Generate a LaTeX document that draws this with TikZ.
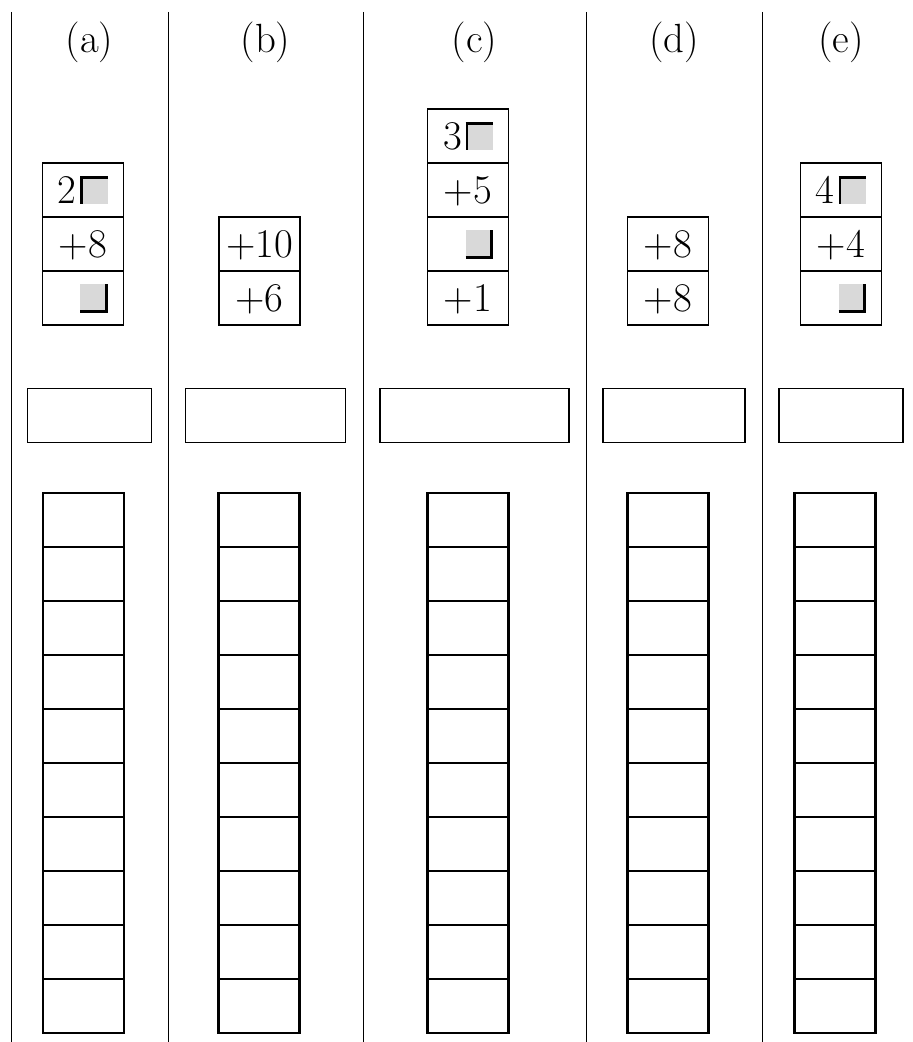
\documentclass[tikz,border=0pt]{standalone}
\usepackage{xcolor}
\usetikzlibrary{positioning}

\definecolor{gapgray}{gray}{0.85}
\newcommand{\bigfont}{\fontsize{21.5}{26}\selectfont}
\newlength{\gapw}\setlength{\gapw}{0.51cm}
\newlength{\gapt}\setlength{\gapt}{1.4pt}
% gray gap square, black corner top left
\newcommand{\gapTL}{\hspace{2pt}%
  \rlap{\textcolor{gapgray}{\rule{\gapw}{\gapw}}}%
  \rlap{\rule{\gapt}{\gapw}}%
  \rule[\dimexpr\gapw-\gapt\relax]{\gapw}{\gapt}}
% gray gap square, black corner bottom right
\newcommand{\gapBR}{\hspace{2pt}%
  \rlap{\textcolor{gapgray}{\rule{\gapw}{\gapw}}}%
  \rlap{\hspace{\dimexpr\gapw-\gapt\relax}\rule{\gapt}{\gapw}}%
  \rule[-0.5\gapt]{\gapw}{\gapt}}

\tikzset{
  divider/.style={line width=0.5pt},
  cell/.style={draw, line width=1pt, minimum width=1.5cm, minimum height=1cm,
    text height=0.5cm, text depth=0pt, inner sep=0pt, outer sep=0pt, font=\bigfont},
  answer/.style={draw, line width=0.8pt, minimum height=1cm, outer sep=0pt},
  slot/.style={draw, line width=1.2pt, minimum width=1.5cm, minimum height=1cm, outer sep=0pt},
  caption/.style={font=\bigfont, anchor=base}
}

\begin{document}
\begin{tikzpicture}

  \useasboundingbox (0,0) rectangle (16.907,-19.296);

  % Dividers
  \foreach \x in {0.204, 3.111, 6.722, 10.852, 14.111}
    \draw[divider] (\x,-0.222) -- (\x,-19.296);

  % Captions, answer boxes and slot columns
  \foreach \name/\lbl/\cx/\gx/\w in {A/a/1.657/1.546/2.296, B/b/4.917/4.796/2.963,
      C/c/8.787/8.667/3.5, D/d/12.481/12.370/2.63, E/e/15.574/15.463/2.296} {
    \node[caption] (cap\name) at (\cx,-0.98) {(\lbl)};
    \node[answer, minimum width=\w cm] (ans\name) at (\cx,-7.694) {};
    \foreach \k in {0,...,9}
      \node[slot] (slot\name-\k) at (\gx,{-9.63-\k}) {};
  }

  % Stack (a)
  \node[cell] (a1) at (1.537,-3.519) {2\gapTL};
  \node[cell, below=0pt of a1] (a2) {+8};
  \node[cell, below=0pt of a2] (a3) {\phantom{2}\gapBR};

  % Stack (b)
  \node[cell] (b1) at (4.806,-4.519) {+10};
  \node[cell, below=0pt of b1] (b2) {+6};

  % Stack (c)
  \node[cell] (c1) at (8.667,-2.519) {3\gapTL};
  \node[cell, below=0pt of c1] (c2) {+5};
  \node[cell, below=0pt of c2] (c3) {\phantom{3}\gapBR};
  \node[cell, below=0pt of c3] (c4) {+1};

  % Stack (d)
  \node[cell] (d1) at (12.370,-4.519) {+8};
  \node[cell, below=0pt of d1] (d2) {+8};

  % Stack (e)
  \node[cell] (e1) at (15.574,-3.519) {4\gapTL};
  \node[cell, below=0pt of e1] (e2) {+4};
  \node[cell, below=0pt of e2] (e3) {\phantom{4}\gapBR};

\end{tikzpicture}
\end{document}
